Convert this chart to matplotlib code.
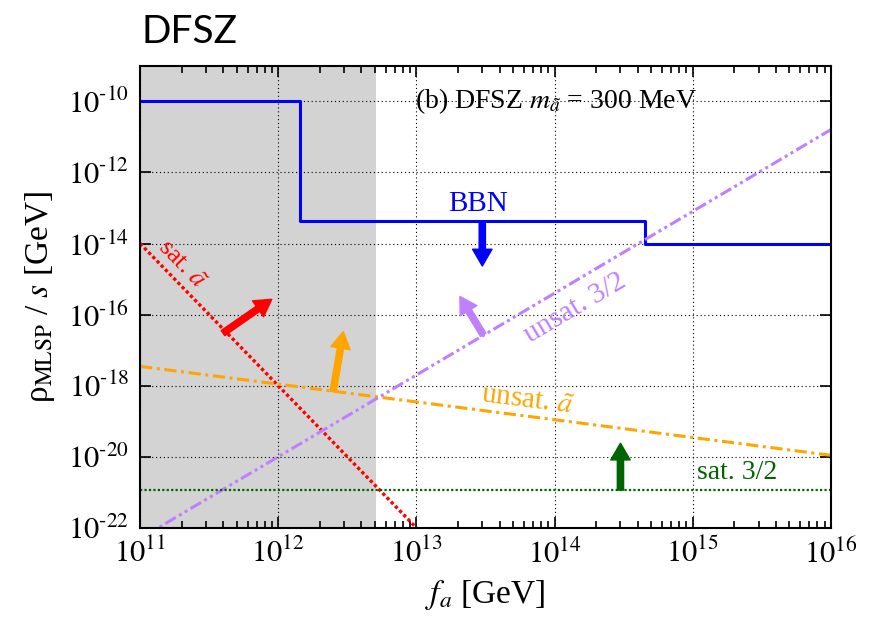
import numpy as np
import matplotlib
matplotlib.use("Agg")
import matplotlib.pyplot as plt
from matplotlib.ticker import LogLocator, NullFormatter

plt.rcParams['font.family'] = 'serif'
plt.rcParams['font.serif'] = ['Liberation Serif', 'DejaVu Serif']
plt.rcParams['mathtext.fontset'] = 'stix'

# data (f_a in GeV, rho/s in GeV)
bbn_fa = [1e11, 1.44e12, 1.44e12, 4.5e14, 4.5e14, 1e16]
bbn_rho = [1e-10, 1e-10, 4.2e-14, 4.2e-14, 1e-14, 1e-14]

sat_axino_fa = [1e11, 1e13]
sat_axino_rho = [1e-14, 1e-22]

unsat_axino_fa = [1e11, 1e16]
unsat_axino_rho = [3.5e-18, 1.1e-20]

unsat_grav_fa = [1e11, 1e16]
unsat_grav_rho = [5e-23, 1.6e-11]

sat_grav_fa = [1e11, 1e16]
sat_grav_rho = [1.15e-21, 1.15e-21]

excluded_fa = [1e11, 5.1e12]

x_exps = [11, 12, 13, 14, 15, 16]
y_exps = [-22, -20, -18, -16, -14, -12, -10]

fig = plt.figure(figsize=(8.7, 6.21), dpi=100)
ax = fig.add_axes([0.161, 0.150, 0.794, 0.744])
ax.set_xscale('log')
ax.set_yscale('log')
ax.set_xlim(1e11, 1e16)
ax.set_ylim(1e-22, 1e-9)

# shaded region
ax.axvspan(excluded_fa[0], excluded_fa[1], color='#d3d3d3', zorder=0, lw=0)

# curves
ax.plot(bbn_fa, bbn_rho, color='#0000ff', lw=2.2, zorder=3)
ax.plot(sat_axino_fa, sat_axino_rho, color='#ff0000', lw=2.4,
        linestyle=(0, (1, 0.8)), zorder=3)
ax.plot(unsat_axino_fa, unsat_axino_rho, color='#ffa500', lw=2.2,
        linestyle=(0, (4, 1.5, 1, 1.5)), zorder=3)
ax.plot(unsat_grav_fa, unsat_grav_rho, color='#bf80ff', lw=2.2,
        linestyle=(0, (4, 1.2, 1, 1.2, 1, 1.2)), zorder=3)
ax.plot(sat_grav_fa, sat_grav_rho, color='#006400', lw=1.6,
        linestyle=(0, (1, 1)), zorder=3)

# arrows: (tail, head, colour)
def arrow(tail, head, color, width=4.5, hw=14, hl=12):
    ax.annotate('', xy=head, xytext=tail,
                arrowprops=dict(facecolor=color, edgecolor=color, width=width,
                                headwidth=hw, headlength=hl, shrink=0),
                zorder=4)

arrow((10**11.6, 10**-16.52), (10**11.953, 10**-15.57), '#ff0000')
arrow((10**12.397, 10**-18.17), (10**12.471, 10**-16.48), '#ffa500')
arrow((10**13.484, 10**-16.57), (10**13.315, 10**-15.49), '#bf80ff')
arrow((3e13, 4.2e-14), (3e13, 10**-14.63), '#0000ff')
arrow((3e14, 1.15e-21), (3e14, 10**-19.62), '#006400')

# labels
ax.text(10**13.446, 10**-12.88, 'BBN', color='#0000ff', fontsize=21,
        ha='center', va='center')
ax.text(10**11.30, 10**-14.60, r'sat. $ã$', color='#ff0000',
        fontsize=19, rotation=-46, ha='center', va='center',
        rotation_mode='anchor')
ax.text(10**14.148, 10**-15.81, 'unsat. 3/2', color='#bf80ff', fontsize=21,
        rotation=30.6, ha='center', va='center', rotation_mode='anchor')
ax.text(10**13.80, 10**-18.40, r'unsat. $ã$', color='#ffa500',
        fontsize=21, rotation=-7.3, ha='center', va='center',
        rotation_mode='anchor')
ax.text(1.08e15, 10**-20.43, 'sat. 3/2', color='#006400', fontsize=20,
        ha='left', va='center')
ax.text(10**12.99, 10**-10.0, r'(b) DFSZ $m_{ã}$ = 300 MeV',
        fontsize=20, ha='left', va='center')

# axes styling
ax.set_xticks([10.0**e for e in x_exps])
ax.set_xticklabels([r'$10^{%d}$' % e for e in x_exps])
ax.set_yticks([10.0**e for e in y_exps])
ax.set_yticklabels([r'$10^{\text{-}%d}$' % -e for e in y_exps])
ax.yaxis.set_minor_locator(plt.NullLocator())
ax.xaxis.set_minor_locator(LogLocator(base=10, subs=np.arange(2, 10), numticks=20))
ax.xaxis.set_minor_formatter(NullFormatter())
ax.tick_params(which='both', direction='in', top=True, right=True,
               labelsize=22, width=1.2)
ax.tick_params(which='major', length=8, pad=8)
ax.tick_params(which='minor', length=5)
ax.grid(True, which='major', color='black', lw=0.8, linestyle=(0, (1, 2.5)))
ax.set_axisbelow(False)
for sp in ax.spines.values():
    sp.set_linewidth(1.5)
    sp.set_zorder(5)

ax.set_xlabel(r'$f_a$ [GeV]', fontsize=24, labelpad=6)
ax.set_ylabel(r'ρ$_{\rm MLSP}$ / $s$ [GeV]', fontsize=24, labelpad=8)

fig.text(0.163, 0.931, 'DFSZ', fontsize=28, family='Lato', va='baseline')

fig.savefig('out.png', dpi=100)
